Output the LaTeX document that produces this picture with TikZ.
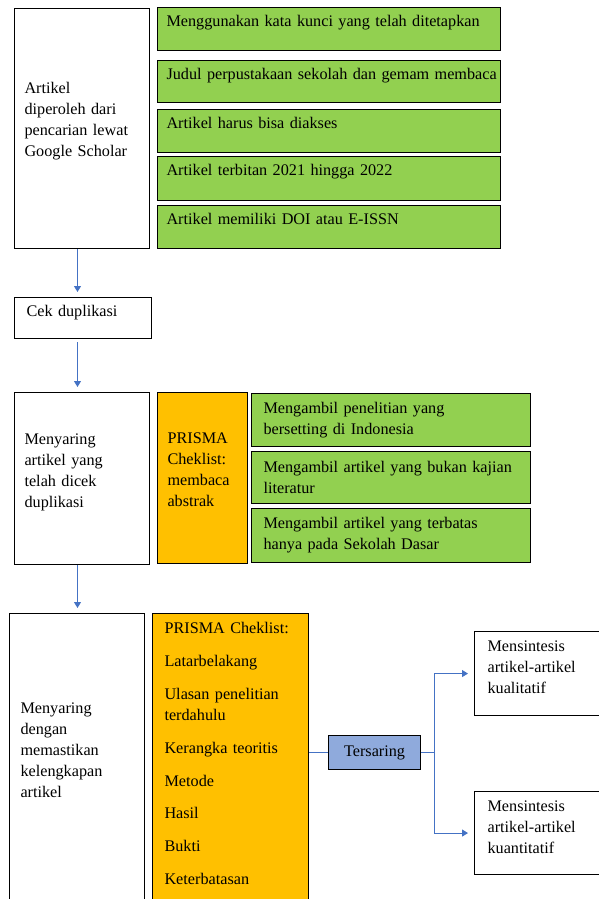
\documentclass[tikz,border=0pt]{standalone}
\usepackage{fontspec}
\setmainfont{Liberation Serif}
\usetikzlibrary{arrows.meta}
\hyphenpenalty=10000
\exhyphenpenalty=10000
\definecolor{grn}{HTML}{92D050}
\definecolor{org}{HTML}{FFC000}
\definecolor{blu}{HTML}{8FAADC}
\definecolor{lnk}{HTML}{4472C4}
\tikzset{
  box/.style = {draw=black, line width=1.1pt, anchor=north west, align=left,
    inner ysep=0pt, font=\fontsize{16.2}{20.9}\selectfont},
  box_w/.style = {box, fill=white},
  box_g/.style = {box, fill=grn},
  box_o/.style = {box, fill=org},
  box_b/.style = {box, fill=blu, align=center},
  flow/.style = {-{Triangle[width=7pt,length=6pt]}, draw=lnk, line width=1pt,
    shorten >=5pt}
}

\begin{document}
\begin{tikzpicture}[x=1pt, y=-1pt]
\useasboundingbox (0,0) rectangle (598,899);
\coordinate (ax) at (77.5,0);

\node [box_w, text width=115pt, inner xsep=10pt, text height=85pt, text depth=155pt] (src) at (14,8)
  {Artikel\\ diperoleh dari\\ pencarian lewat\\ Google Scholar};
\node [box_g, text width=325pt, inner xsep=9pt, text height=19pt, text depth=24pt] (c1) at (157,7)
  {\mbox{Menggunakan kata kunci yang telah ditetapkan}};
\node [box_g, text width=325pt, inner xsep=9pt, text height=19pt, text depth=23pt] (c2) at (157,60)
  {\mbox{Judul perpustakaan sekolah dan gemam membaca}};
\node [box_g, text width=325pt, inner xsep=9pt, text height=19pt, text depth=24pt] (c3) at (157,109)
  {Artikel harus bisa diakses};
\node [box_g, text width=325pt, inner xsep=9pt, text height=19pt, text depth=25pt] (c4) at (157,156)
  {Artikel terbitan 2021 hingga 2022};
\node [box_g, text width=325pt, inner xsep=9pt, text height=19pt, text depth=24pt] (c5) at (157,205)
  {Artikel memiliki DOI atau E-ISSN};

\node [box_w, text width=113pt, inner xsep=12pt, text height=19pt, text depth=22pt] (dup) at (14,297)
  {Cek duplikasi};

\node [box_w, text width=115pt, inner xsep=10pt, text height=52pt, text depth=120pt] (scr1) at (14,392)
  {Menyaring\\ artikel yang\\ telah dicek\\ duplikasi};
\node [box_o, text width=70pt, inner xsep=10pt, text height=51pt, text depth=120pt] (chk1) at (157,392)
  {PRISMA\\ Cheklist:\\ membaca\\ abstrak};
\node [box_g, text width=255pt, inner xsep=12pt, minimum height=53pt] (s1) at (251,393)
  {Mengambil penelitian yang\\ bersetting di Indonesia};
\node [box_g, text width=255pt, inner xsep=12pt, minimum height=52pt] (s2) at (251,451)
  {Mengambil artikel yang bukan kajian\\ literatur};
\node [box_g, text width=255pt, inner xsep=12pt, minimum height=54pt] (s3) at (251,508)
  {Mengambil artikel yang terbatas\\ hanya pada Sekolah Dasar};

\node [box_w, text width=113pt, inner xsep=11pt, text height=100pt, text depth=186pt] (scr2) at (9,613)
  {Menyaring\\ dengan\\ memastikan\\ kelengkapan\\ artikel};
\node [box_o, text width=132pt, inner xsep=12pt, text height=20pt, text depth=266pt] (chk2) at (152,613)
  {PRISMA Cheklist:\\[12pt] Latarbelakang\\[12pt] Ulasan penelitian\\ terdahulu\\[12pt]
   Kerangka teoritis\\[12pt] Metode\\[12pt] Hasil\\[12pt] Bukti\\[12pt] Keterbatasan};
\node [box_b, text width=72pt, inner xsep=10pt, minimum height=34pt] (tsr) at (328,735)
  {Tersaring};
\node [box_w, text width=101pt, inner xsep=13pt, text height=20pt, text depth=64pt] (qual) at (474,631)
  {Mensintesis\\ artikel-artikel\\ kualitatif};
\node [box_w, text width=101pt, inner xsep=13pt, text height=20pt, text depth=63pt] (quan) at (474,791)
  {Mensintesis\\ artikel-artikel\\ kuantitatif};

\draw[flow] (src.south -| ax) -- (dup.north -| ax);
\draw[flow, shorten <=3pt] (dup.south -| ax) -- (scr1.north -| ax);
\draw[flow] (scr1.south -| ax) -- (scr2.north -| ax);
\draw[draw=lnk, line width=1pt] (tsr.west -| chk2.east) -- (tsr.west);
\draw[flow, shorten >=6pt] (tsr.east) -- ++(13,0) |- (qual.west);
\draw[flow, shorten >=6pt] (tsr.east) -- ++(13,0) |- (quan.west);
\end{tikzpicture}
\end{document}
